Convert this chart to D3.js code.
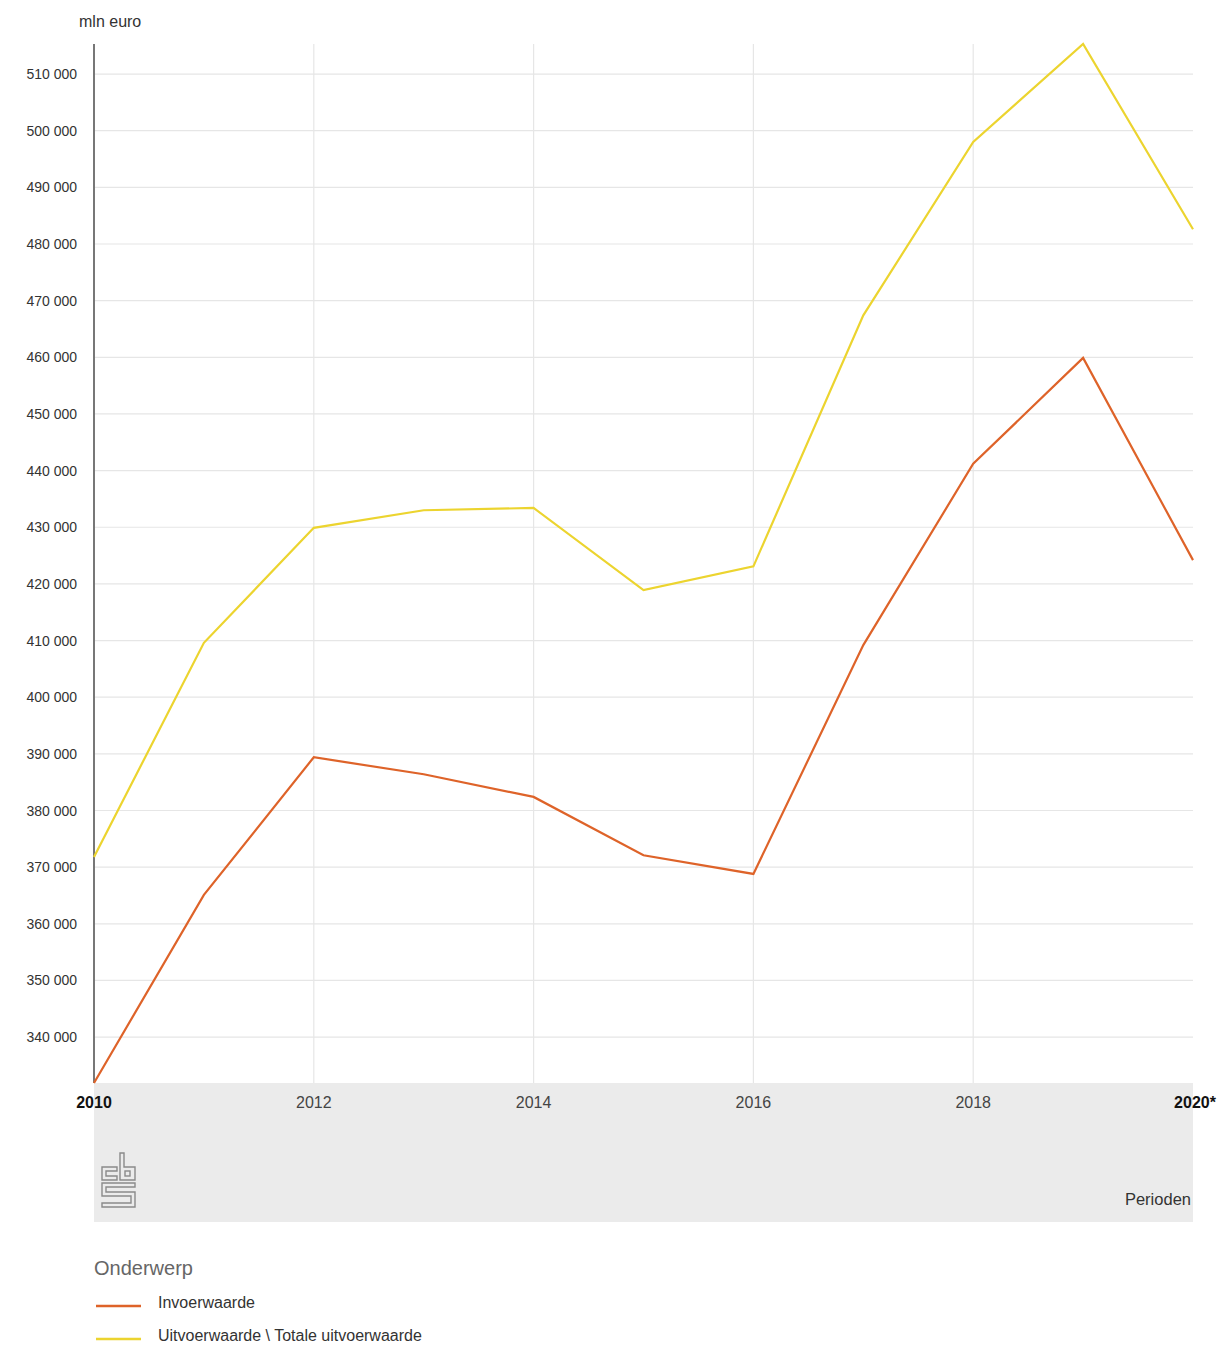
<!DOCTYPE html>
<html>
<head>
<meta charset="utf-8">
<script src="https://cdn.jsdelivr.net/npm/d3@7"></script>
<style>
  body { margin: 0; background: #fff; }
  text { font-family: "Liberation Sans", Arial, sans-serif; }
</style>
</head>
<body>
<script>
// data
const years = [2010, 2011, 2012, 2013, 2014, 2015, 2016, 2017, 2018, 2019, 2020]
const invoer = [331900, 365100, 389400, 386400, 382400, 372100, 368800, 409200, 441200, 459900, 424200]
const uitvoer = [371800, 409600, 429900, 433000, 433400, 418900, 423100, 467400, 498000, 515300, 482600]
const yTicks = [340000, 350000, 360000, 370000, 380000, 390000, 400000, 410000, 420000, 430000, 440000, 450000, 460000, 470000, 480000, 490000, 500000, 510000]
const xTicks = [2010, 2012, 2014, 2016, 2018, 2020]
const xTickLabels = ['2010', '2012', '2014', '2016', '2018', '2020*']
const seriesNames = ['Invoerwaarde', 'Uitvoerwaarde \\ Totale uitvoerwaarde']
const colors = ['#de6329', '#ecd42f']

const W = 1217, H = 1348
const mLeft = 94, mRight = 1193, mTop = 44, mBottom = 1083

const svg = d3.select('body').append('svg')
    .attr('width', W)
    .attr('height', H)

const x = d3.scaleLinear().domain([2010, 2020]).range([mLeft, mRight])
const y = d3.scaleLinear().domain([331900, 515300]).range([mBottom, mTop])

// grey band under the plot
svg.append('rect')
    .attr('x', mLeft)
    .attr('y', mBottom)
    .attr('width', mRight - mLeft)
    .attr('height', 139)
    .attr('fill', '#ebebeb')

// horizontal grid
svg.append('g')
    .selectAll('line')
    .data(yTicks)
    .enter()
    .append('line')
    .attr('x1', mLeft)
    .attr('x2', mRight)
    .attr('y1', d => y(d))
    .attr('y2', d => y(d))
    .attr('stroke', '#e6e6e6')
    .attr('stroke-width', 1.2)

// vertical grid
svg.append('g')
    .selectAll('line')
    .data(xTicks.slice(1, -1))
    .enter()
    .append('line')
    .attr('x1', d => x(d))
    .attr('x2', d => x(d))
    .attr('y1', mTop)
    .attr('y2', mBottom)
    .attr('stroke', '#e6e6e6')
    .attr('stroke-width', 1.2)

// y tick labels
const fmt = d => d3.format(',')(d).replace(/,/g, ' ')
svg.append('g')
    .selectAll('text')
    .data(yTicks)
    .enter()
    .append('text')
    .attr('x', 77)
    .attr('y', d => y(d) + 5)
    .attr('text-anchor', 'end')
    .attr('font-size', 14)
    .attr('fill', '#333')
    .text(fmt)

svg.append('text')
    .attr('x', 79)
    .attr('y', 27)
    .attr('font-size', 16)
    .attr('fill', '#333')
    .text('mln euro')

// x tick labels
svg.append('g')
    .selectAll('text')
    .data(xTicks)
    .enter()
    .append('text')
    .attr('x', (d, i) => x(d) + (i === xTicks.length - 1 ? 2 : 0))
    .attr('y', 1108)
    .attr('text-anchor', 'middle')
    .attr('font-size', 16)
    .attr('font-weight', (d, i) => (i === 0 || i === xTicks.length - 1) ? 'bold' : 'normal')
    .attr('fill', (d, i) => (i === 0 || i === xTicks.length - 1) ? '#111' : '#444')
    .text((d, i) => xTickLabels[i])

svg.append('text')
    .attr('x', 1191)
    .attr('y', 1205)
    .attr('text-anchor', 'end')
    .attr('font-size', 16.5)
    .attr('fill', '#333')
    .text('Perioden')

// cbs logo (rough outline)
const logo = svg.append('g')
    .attr('fill', 'none')
    .attr('stroke', '#8a8a8a')
    .attr('stroke-width', 1.4)
logo.append('path').attr('d', 'M117,1167 H102 V1180 H117 V1176 H106 V1171 H117 Z')
logo.append('path').attr('d', 'M120,1153 H124 V1167 H135 V1180 H120 Z')
logo.append('rect').attr('x', 125).attr('y', 1171).attr('width', 5).attr('height', 5)
logo.append('path').attr('d', 'M102,1183 H135 V1187 H106 V1192 H135 V1207 H102 V1203 H131 V1196 H102 Z')

// y axis line
svg.append('line')
    .attr('x1', mLeft)
    .attr('x2', mLeft)
    .attr('y1', mTop)
    .attr('y2', mBottom)
    .attr('stroke', '#777')
    .attr('stroke-width', 2)

// lines
const line = d3.line()
    .x((d, i) => x(years[i]))
    .y(d => y(d))

svg.selectAll('path.series')
    .data([invoer, uitvoer])
    .enter()
    .append('path')
    .attr('class', 'series')
    .attr('d', line)
    .attr('fill', 'none')
    .attr('stroke', (d, i) => colors[i])
    .attr('stroke-width', 2.2)

// legend
svg.append('text')
    .attr('x', 94)
    .attr('y', 1275)
    .attr('font-size', 20)
    .attr('fill', '#666')
    .text('Onderwerp')

const legend = svg.selectAll('g.legend')
    .data(seriesNames)
    .enter()
    .append('g')
    .attr('class', 'legend')
    .attr('transform', (d, i) => `translate(0, ${1306 + i * 33})`)

legend.append('line')
    .attr('x1', 96)
    .attr('x2', 141)
    .attr('stroke', (d, i) => colors[i])
    .attr('stroke-width', 2.5)

legend.append('text')
    .attr('x', 158)
    .attr('y', 2)
    .attr('font-size', 16)
    .attr('fill', '#333')
    .text(d => d)
</script>
</body>
</html>
